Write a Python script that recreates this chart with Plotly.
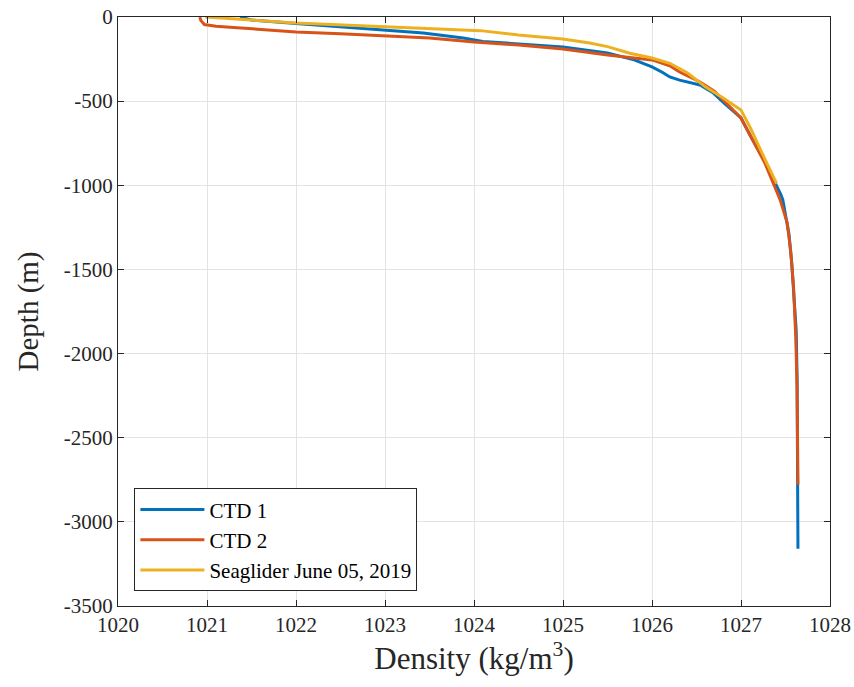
import plotly.graph_objects as go

ctd1_depth = [0, 10, 18, 38, 65, 95, 125, 145, 178, 214, 255, 297, 330, 356, 375, 404, 452, 517, 600, 730, 850, 986, 1058, 1087, 1176, 1265, 1295, 1462, 1622, 1760, 1860, 2140, 2500, 2780, 3160]
ctd1_density = [1021.37, 1021.45, 1021.5, 1022.0, 1022.69, 1023.43, 1023.88, 1024.1, 1025.0, 1025.5, 1025.8, 1026.0, 1026.12, 1026.2, 1026.31, 1026.54, 1026.69, 1026.82, 1027.0, 1027.13, 1027.26, 1027.39, 1027.45, 1027.47, 1027.5, 1027.53, 1027.54, 1027.57, 1027.59, 1027.61, 1027.62, 1027.63, 1027.635, 1027.64, 1027.64]

ctd2_depth = [0, 20, 45, 55, 62, 80, 89, 100, 113, 125, 149, 166, 190, 226, 255, 290, 327, 386, 440, 520, 600, 730, 870, 1010, 1087, 1224, 1400, 1600, 1900, 2200, 2500, 2780]
ctd2_density = [1020.92, 1020.93, 1020.97, 1021.1, 1021.3, 1021.7, 1022.0, 1022.5, 1023.0, 1023.5, 1024.0, 1024.5, 1025.0, 1025.5, 1026.0, 1026.2, 1026.31, 1026.54, 1026.7, 1026.85, 1027.0, 1027.13, 1027.27, 1027.38, 1027.44, 1027.52, 1027.56, 1027.59, 1027.615, 1027.63, 1027.635, 1027.64]

glider_depth = [0, 5, 18, 36, 59, 81, 107, 131, 155, 176, 215, 244, 275, 333, 415, 481, 553, 653, 790, 900, 990]
glider_density = [1020.98, 1021.1, 1021.5, 1022.0, 1023.0, 1024.07, 1024.5, 1025.0, 1025.3, 1025.5, 1025.75, 1026.0, 1026.2, 1026.4, 1026.6, 1026.8, 1027.0, 1027.1, 1027.22, 1027.32, 1027.4]

x_ticks = [1020, 1021, 1022, 1023, 1024, 1025, 1026, 1027, 1028]
y_ticks = [0, -500, -1000, -1500, -2000, -2500, -3000, -3500]

series = [
    ("CTD 1", ctd1_density, ctd1_depth, "#0072BD"),
    ("CTD 2", ctd2_density, ctd2_depth, "#D95319"),
    ("Seaglider June 05, 2019", glider_density, glider_depth, "#EDB120"),
]

fig = go.Figure()
for name, dens, dep, col in series:
    fig.add_trace(go.Scatter(x=dens, y=[-d for d in dep], mode="lines", name=name,
                             line=dict(color=col, width=3, shape="linear")))

font = "Liberation Serif"
axis_common = dict(showgrid=True, gridcolor="#e3e3e3", gridwidth=1, zeroline=False,
                   showline=True, linecolor="#262626", linewidth=1, mirror="ticks",
                   ticks="inside", ticklen=6, tickcolor="#262626", automargin=False,
                   tickfont=dict(family=font, size=21, color="#262626"))

fig.update_layout(
    width=854, height=687,
    margin=dict(l=118, r=24, t=17, b=81),
    paper_bgcolor="white", plot_bgcolor="white",
    font=dict(family=font, color="#262626"),
    showlegend=True,
    legend=dict(x=0.023, y=0.025, xanchor="left", yanchor="bottom",
                bgcolor="white", bordercolor="#262626", borderwidth=1,
                font=dict(family=font, size=21, color="#000000"),
                tracegroupgap=0, itemwidth=64),
)
fig.update_xaxes(range=[1020, 1028], tickvals=x_ticks, ticktext=[str(v) for v in x_ticks],
                 title=dict(text="Density (kg/m<sup>3</sup>)", font=dict(family=font, size=31, color="#262626"), standoff=6),
                 **axis_common)
fig.update_yaxes(range=[-3500, 0], tickvals=y_ticks, ticktext=[str(v) for v in y_ticks],
                 title=dict(text="Depth (m)", font=dict(family=font, size=29, color="#262626"), standoff=16),
                 **axis_common)

fig.write_html("out.html")
